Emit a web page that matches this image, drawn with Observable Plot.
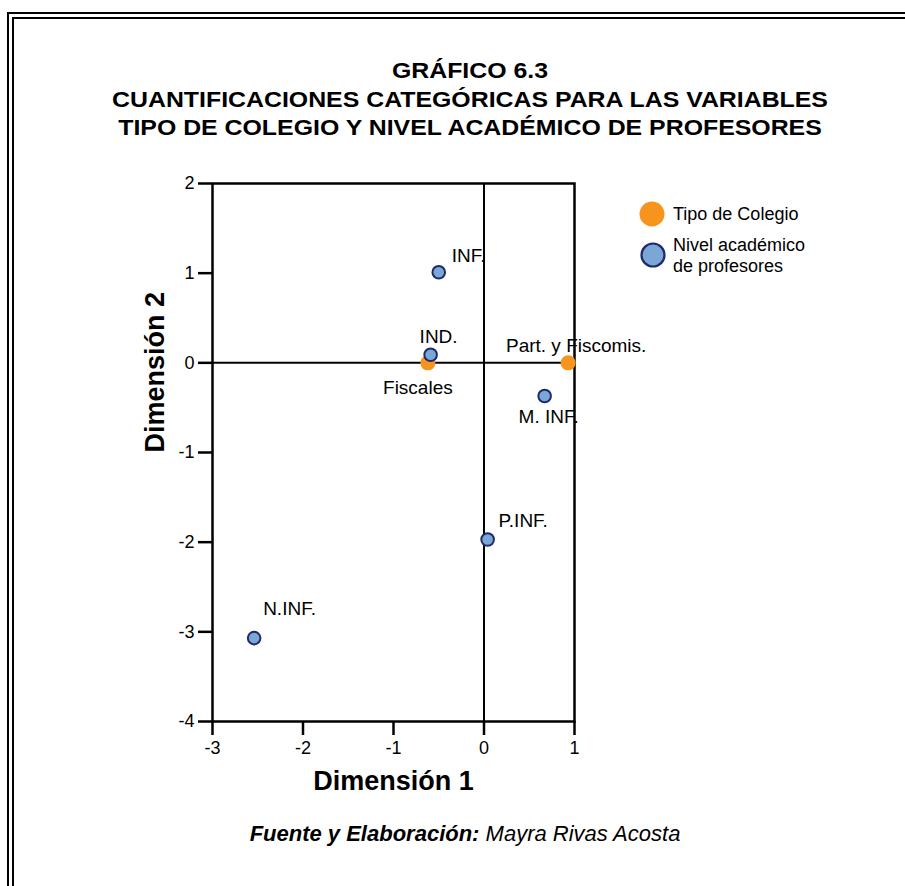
<!DOCTYPE html>
<html>
<head>
<meta charset="utf-8">
<script src="https://cdn.jsdelivr.net/npm/d3@7"></script>
<script src="https://cdn.jsdelivr.net/npm/@observablehq/plot@0.6"></script>
<style>
  html, body { margin: 0; padding: 0; background: #fff; }
  body { width: 905px; height: 886px; position: relative; overflow: hidden; font-family: "Liberation Sans", Arial, sans-serif; }
  #frame { position: absolute; left: 7px; top: 12px; width: 1000px; height: 1000px; border: 7px double #000; box-sizing: border-box; }
  #title { position: absolute; left: 0; width: 940px; top: 57px; text-align: center; font-weight: bold; font-size: 22px; line-height: 28.5px; color: #000; transform: scaleX(1.13); transform-origin: 470px 0; }
  #chart { position: absolute; left: 0; top: 0; }
  #chart g[aria-label="x-axis tick label"], #chart g[aria-label="y-axis tick label"] { font-size: 18px; }
  #legend { position: absolute; left: 630px; top: 195px; }
  #caption { position: absolute; left: 0; width: 930px; top: 821px; text-align: center; font-style: italic; font-size: 22px; color: #000; }
</style>
</head>
<body>
<div id="frame"></div>
<div id="title">GRÁFICO 6.3<br>CUANTIFICACIONES CATEGÓRICAS PARA LAS VARIABLES<br>TIPO DE COLEGIO Y NIVEL ACADÉMICO DE PROFESORES</div>
<div id="chart"></div>
<svg id="legend" width="240" height="90" font-family="Liberation Sans, Arial, sans-serif" font-size="18">
  <circle cx="22" cy="19" r="12.5" fill="#F7941D"></circle>
  <text x="43" y="25">Tipo de Colegio</text>
  <circle cx="23" cy="60" r="11.5" fill="#7BA7D7" stroke="#1F2A6B" stroke-width="2.2"></circle>
  <text x="43" y="56">Nivel académico</text>
  <text x="43" y="77">de profesores</text>
</svg>
<div id="caption"><b>Fuente y Elaboración:</b> Mayra Rivas Acosta</div>
<script>
// ---- data ----
const labels = ["INF.", "IND.", "Fiscales", "Part. y Fiscomis.", "M. INF.", "P.INF.", "N.INF."];
const dim1   = [-0.50, -0.59, -0.62, 0.93, 0.67, 0.04, -2.54];
const dim2   = [ 1.01,  0.09,  0.00, 0.00, -0.37, -1.97, -3.07];
const group  = ["Nivel", "Nivel", "Tipo", "Tipo", "Nivel", "Nivel", "Nivel"];
const xTicks = [-3, -2, -1, 0, 1];
const yTicks = [-4, -3, -2, -1, 0, 1, 2];

// label placement (layout only)
const labelOffset = {
  "INF.": [13, -16, "start"],
  "IND.": [8, -18, "middle"],
  "Fiscales": [-10, 25, "middle"],
  "Part. y Fiscomis.": [8, -17, "middle"],
  "M. INF.": [4, 21, "middle"],
  "P.INF.": [11, -19, "start"],
  "N.INF.": [9, -29, "start"]
};

const points = labels.map((l, i) => ({label: l, x: dim1[i], y: dim2[i], group: group[i]}));
const tipo = points.filter(d => d.group === "Tipo");
const nivel = points.filter(d => d.group === "Nivel");

const textMarks = points.map(d => Plot.text([d], {
  x: "x", y: "y", text: "label",
  dx: labelOffset[d.label][0], dy: labelOffset[d.label][1],
  textAnchor: labelOffset[d.label][2],
  fontSize: 19, fill: "#000"
}));

const chart = Plot.plot({
  width: 905,
  height: 886,
  marginLeft: 212,
  marginRight: 331,
  marginTop: 183,
  marginBottom: 165,
  style: {fontFamily: "Liberation Sans, Arial, sans-serif", background: "transparent", color: "#000", overflow: "visible"},
  x: {domain: [-3, 1], ticks: xTicks, tickFormat: d => String(d)},
  y: {domain: [-4, 2], ticks: yTicks, tickFormat: d => String(d)},
  marks: [
    Plot.axisX({ticks: xTicks, tickSize: 14, tickPadding: 6, fontSize: 18, strokeWidth: 2.5, label: null, tickFormat: d => String(d)}),
    Plot.axisY({ticks: yTicks, tickSize: 14, tickPadding: 4, fontSize: 18, strokeWidth: 2.5, label: null, tickFormat: d => String(d)}),
    Plot.ruleX([0], {stroke: "#000", strokeWidth: 2}),
    Plot.ruleY([0], {stroke: "#000", strokeWidth: 2}),
    Plot.frame({stroke: "#000", strokeWidth: 2.5}),
    Plot.dot(tipo, {x: "x", y: "y", r: 7.5, fill: "#F7941D", stroke: "none"}),
    Plot.dot(nivel, {x: "x", y: "y", r: 6.3, fill: "#7BA7D7", stroke: "#1F2A6B", strokeWidth: 2}),
    ...textMarks,
    Plot.text(["Dimensión 1"], {frameAnchor: "bottom", dy: 68, fontSize: 27, fontWeight: "bold", fill: "#000"}),
    Plot.text(["Dimensión 2"], {frameAnchor: "left", dx: -57, rotate: -90, fontSize: 27, fontWeight: "bold", fill: "#000"})
  ]
});
document.getElementById("chart").appendChild(chart);
</script>
</body>
</html>
